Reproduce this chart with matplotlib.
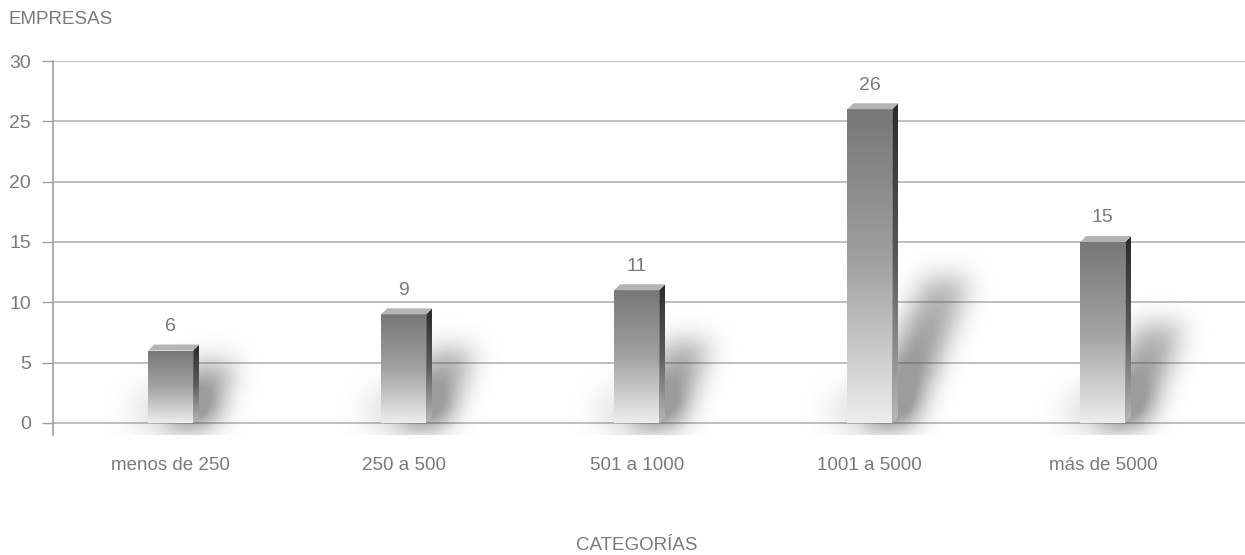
import numpy as np
import matplotlib
matplotlib.use('Agg')
import matplotlib.pyplot as plt
from matplotlib.colors import LinearSegmentedColormap
from matplotlib.patches import Rectangle, Polygon

categories = ['menos de 250', '250 a 500', '501 a 1000', '1001 a 5000', 'más de 5000']
values = [6, 9, 11, 26, 15]
y_ticks = [0, 5, 10, 15, 20, 25, 30]

plt.rcParams['font.family'] = ['Liberation Sans', 'DejaVu Sans']
TXT = '#7a7a7a'

front_cmap = LinearSegmentedColormap.from_list('front', ['#ededed', '#a2a2a2', '#777777'])
side_cmap = LinearSegmentedColormap.from_list('side', ['#b8b8b8', '#5a5a5a', '#2a2a2a'])


def blur(img, s):
    r = int(3 * s)
    k = np.exp(-0.5 * (np.arange(-r, r + 1) / s) ** 2)
    k /= k.sum()
    img = np.apply_along_axis(lambda m: np.convolve(m, k, 'same'), 0, img)
    img = np.apply_along_axis(lambda m: np.convolve(m, k, 'same'), 1, img)
    return img


def draw_shadow(ax, x0, x1, val):
    """Soft slanted drop shadow behind a bar, built in pixel space."""
    tr = ax.transData
    inv = tr.inverted()
    (px0, base), = tr.transform([(x0, 0)])
    (px1, top), = tr.transform([(x1, val)])
    bar_h = top - base
    sh = 35 + 0.35 * bar_h
    slant = 0.42
    gx0, gx1 = px0 - 60, px1 + slant * sh + 90
    gy0, gy1 = base - 50, base + sh + 60
    nx, ny = int(gx1 - gx0), int(gy1 - gy0)
    X, Y = np.meshgrid(np.arange(nx) + gx0, np.arange(ny) + gy0)

    t = (Y - base) / sh
    left = px1 - 28 + slant * t * sh
    right = px1 + 18 + slant * t * sh
    body = ((t >= 0) & (t <= 1) & (X >= left) & (X <= right)).astype(float)
    body *= (1 - 0.5 * np.clip(t, 0, 1))
    body = blur(body, 13)

    cx = (px0 + px1) / 2
    halo = (((X - cx) / ((px1 - px0) * 0.95)) ** 2 + ((Y - base - 10) / 30) ** 2 <= 1).astype(float)
    halo = blur(halo, 14)

    alpha = np.clip(0.8 * body + 0.13 * halo, 0, 0.55)
    rgba = np.zeros((ny, nx, 4))
    rgba[..., :3] = 0.3
    rgba[..., 3] = alpha
    (dx0, dy0), (dx1, dy1) = inv.transform([(gx0, gy0), (gx1, gy1)])
    ax.imshow(rgba, extent=[dx0, dx1, dy0, dy1], origin='lower', aspect='auto',
              interpolation='bilinear', zorder=2)


def draw_bar(ax, xc, val, w):
    x0, x1 = xc - w / 2, xc + w / 2
    tr = ax.transData
    inv = tr.inverted()
    # 6 px depth to the right and up
    (bx, by), = tr.transform([(x1, val)])
    (ex, ey), = inv.transform([(bx + 6, by + 6)])
    dx, dy = ex - x1, ey - val

    draw_shadow(ax, x0, x1, val)

    grad = np.linspace(0, 1, 256).reshape(-1, 1)
    front = Rectangle((x0, 0), w, val, transform=ax.transData, facecolor='none', edgecolor='none')
    ax.add_patch(front)
    im = ax.imshow(grad, cmap=front_cmap, extent=[x0, x1, 0, val], origin='lower',
                   aspect='auto', zorder=4)
    im.set_clip_path(front)

    side = Polygon([(x1, 0), (x1 + dx, dy), (x1 + dx, val + dy), (x1, val)],
                   closed=True, facecolor='none', edgecolor='none')
    ax.add_patch(side)
    im2 = ax.imshow(grad, cmap=side_cmap, extent=[x1, x1 + dx, 0, val + dy], origin='lower',
                    aspect='auto', zorder=4)
    im2.set_clip_path(side)

    topf = Polygon([(x0, val), (x1, val), (x1 + dx, val + dy), (x0 + dx, val + dy)],
                   closed=True, facecolor='#b4b4b4', edgecolor='none', zorder=5)
    ax.add_patch(topf)
    return val + dy


fig = plt.figure(figsize=(12.45, 5.55), dpi=100)
ax = fig.add_axes([53 / 1245, 120 / 555, 1192 / 1245, 374 / 555])
xlim = (-0.505, 4.61)
ylim = (-1, 30)
ax.set_xlim(*xlim)
ax.set_ylim(*ylim)
ax.set_autoscale_on(False)

x = np.arange(len(categories))
bar_w = 0.193
for xi, v in zip(x, values):
    top = draw_bar(ax, xi, v, bar_w)
    ax.annotate(str(v), (xi, top), xytext=(0, 13), textcoords='offset points',
                ha='center', va='center', fontsize=14, color=TXT)

ax.set_xlim(*xlim)
ax.set_ylim(*ylim)

ax.set_yticks(y_ticks)
ax.set_xticks(x)
ax.set_xticklabels(categories)
ax.tick_params(axis='y', length=8, width=1, color='#a0a0a0', labelcolor=TXT,
               labelsize=14, pad=8)
ax.tick_params(axis='x', length=0, labelcolor=TXT, labelsize=13.5, pad=16)
ax.yaxis.grid(True, color='#b4b4b4', linewidth=1.2)
ax.set_axisbelow(True)
for s in ['top', 'right', 'bottom']:
    ax.spines[s].set_visible(False)
ax.spines['left'].set_color('#a0a0a0')
ax.spines['left'].set_linewidth(1.2)

fig.text(8 / 1245, 1 - 20 / 555, 'EMPRESAS', ha='left', va='center', fontsize=13.5, color=TXT)
fig.text(637 / 1245, 1 - 545 / 555, 'CATEGORÍAS', ha='center', va='center', fontsize=13.5, color=TXT)

fig.savefig('out.png', dpi=100)
